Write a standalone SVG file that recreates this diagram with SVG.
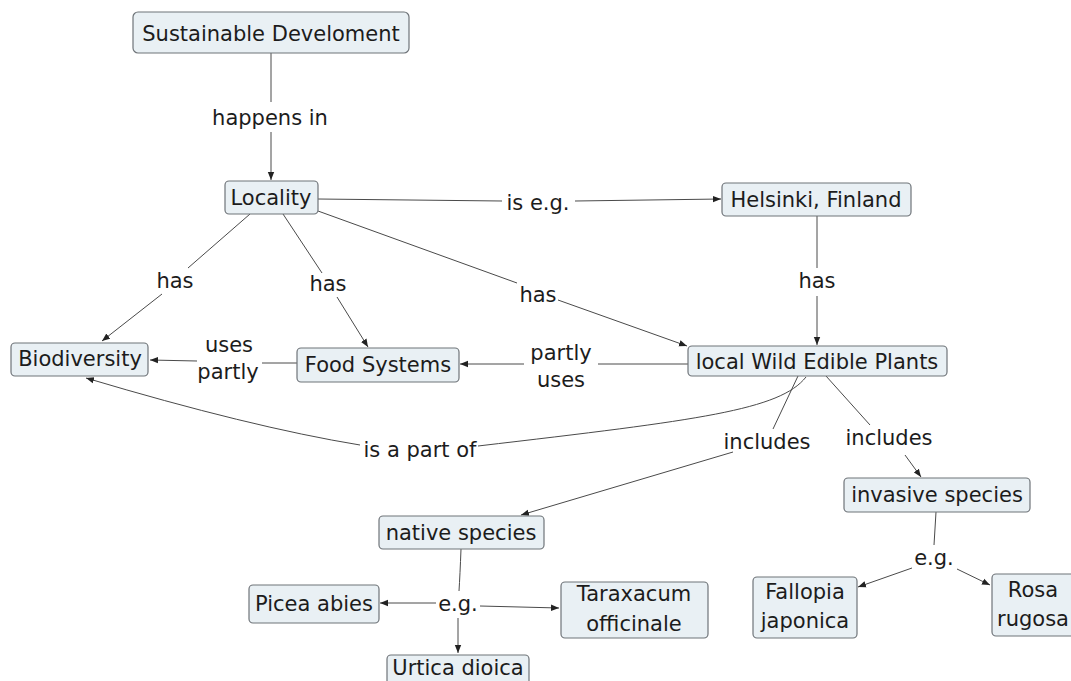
<svg xmlns="http://www.w3.org/2000/svg" width="1071" height="681" viewBox="0 0 1071 681">
<style>
.n rect{fill:#e9f0f4;stroke:#6f7479;stroke-width:1.2}
text{font-family:"DejaVu Sans",Verdana,sans-serif;font-size:21px;fill:#1c1c1c;text-anchor:middle}
.c path{fill:none;stroke:#4a4a4a;stroke-width:1}
.c .a{marker-end:url(#ar)}
</style>
<defs>
<marker id="ar" viewBox="0 0 10 10" refX="10" refY="5" markerWidth="8" markerHeight="8" markerUnits="userSpaceOnUse" orient="auto">
<path d="M0,1 L10,5 L0,9 z" fill="#222"/>
</marker>
</defs>
<rect width="1071" height="681" fill="#fff"/>
<g class="c" id="connectors">
<path d="M271,53 L271,102"/>
<path class="a" d="M271,132 L271,180"/>
<path d="M318,199 L502,201"/>
<path class="a" d="M575,201 L721,199"/>
<path d="M250,214 L188,268"/>
<path class="a" d="M162,294 L102,341"/>
<path d="M283,214 L322,273"/>
<path class="a" d="M337,297 L368,347"/>
<path d="M318,211 L517,283"/>
<path class="a" d="M558,300 L687,346"/>
<path d="M817,216 L817,268"/>
<path class="a" d="M817,296 L817,345"/>
<path d="M297,363 L262,363"/>
<path class="a" d="M197,361 L150,360"/>
<path d="M688,364 L598,364"/>
<path class="a" d="M524,364 L460,364"/>
<path d="M806,377 C780,410 700,420 478,446"/>
<path class="a" d="M360,445 Q250,427 86,378"/>
<path d="M798,376 L773,429"/>
<path class="a" d="M733,452 L521,515"/>
<path d="M826,376 L870,425"/>
<path class="a" d="M905,455 L921,477"/>
<path d="M936,512 L934,545"/>
<path class="a" d="M912,568 L858,587"/>
<path class="a" d="M957,569 L990,585"/>
<path d="M461,549 Q460,575 459,591"/>
<path class="a" d="M436,603 L380,603"/>
<path class="a" d="M480,606 L559,608"/>
<path class="a" d="M458,618 L458,653"/>
</g>
<g id="labels">
<text x="270" y="125">happens in</text>
<text x="538" y="210">is e.g.</text>
<text x="175" y="288">has</text>
<text x="328" y="291">has</text>
<text x="538" y="302">has</text>
<text x="817" y="288">has</text>
<text x="229" y="352">uses</text>
<text x="228" y="379">partly</text>
<text x="561" y="360">partly</text>
<text x="561" y="387">uses</text>
<text x="420" y="457">is a part of</text>
<text x="767" y="449">includes</text>
<text x="889" y="445">includes</text>
<text x="934" y="565">e.g.</text>
<text x="458" y="611">e.g.</text>
</g>
<g class="n" id="n-sd"><rect x="133" y="12" width="276" height="41" rx="5"/><text x="271" y="41">Sustainable Develoment</text></g>
<g class="n" id="n-locality"><rect x="225" y="181" width="93" height="33" rx="4"/><text x="271" y="205">Locality</text></g>
<g class="n" id="n-helsinki"><rect x="722" y="183" width="189" height="33" rx="4"/><text x="816" y="207">Helsinki, Finland</text></g>
<g class="n" id="n-bio"><rect x="11" y="343" width="137" height="33" rx="4"/><text x="80" y="366">Biodiversity</text></g>
<g class="n" id="n-food"><rect x="297" y="348" width="162" height="34" rx="4"/><text x="378" y="372">Food Systems</text></g>
<g class="n" id="n-lwep"><rect x="688" y="346" width="259" height="30" rx="4"/><text x="817" y="369">local Wild Edible Plants</text></g>
<g class="n" id="n-invasive"><rect x="844" y="478" width="186" height="34" rx="4"/><text x="937" y="502">invasive species</text></g>
<g class="n" id="n-native"><rect x="379" y="516" width="165" height="33" rx="4"/><text x="461" y="540">native species</text></g>
<g class="n" id="n-picea"><rect x="249" y="585" width="130" height="38" rx="4"/><text x="314" y="611">Picea abies</text></g>
<g class="n" id="n-taraxacum"><rect x="561" y="582" width="147" height="56" rx="4"/><text x="634" y="601">Taraxacum</text><text x="634" y="631">officinale</text></g>
<g class="n" id="n-urtica"><rect x="387" y="655" width="142" height="34" rx="4"/><text x="458" y="675">Urtica dioica</text></g>
<g class="n" id="n-fallopia"><rect x="753" y="577" width="104" height="61" rx="4"/><text x="805" y="599">Fallopia</text><text x="805" y="628">japonica</text></g>
<g class="n" id="n-rosa"><rect x="992" y="574" width="84" height="62" rx="4"/><text x="1033" y="597">Rosa</text><text x="1033" y="626">rugosa</text></g>
</svg>
